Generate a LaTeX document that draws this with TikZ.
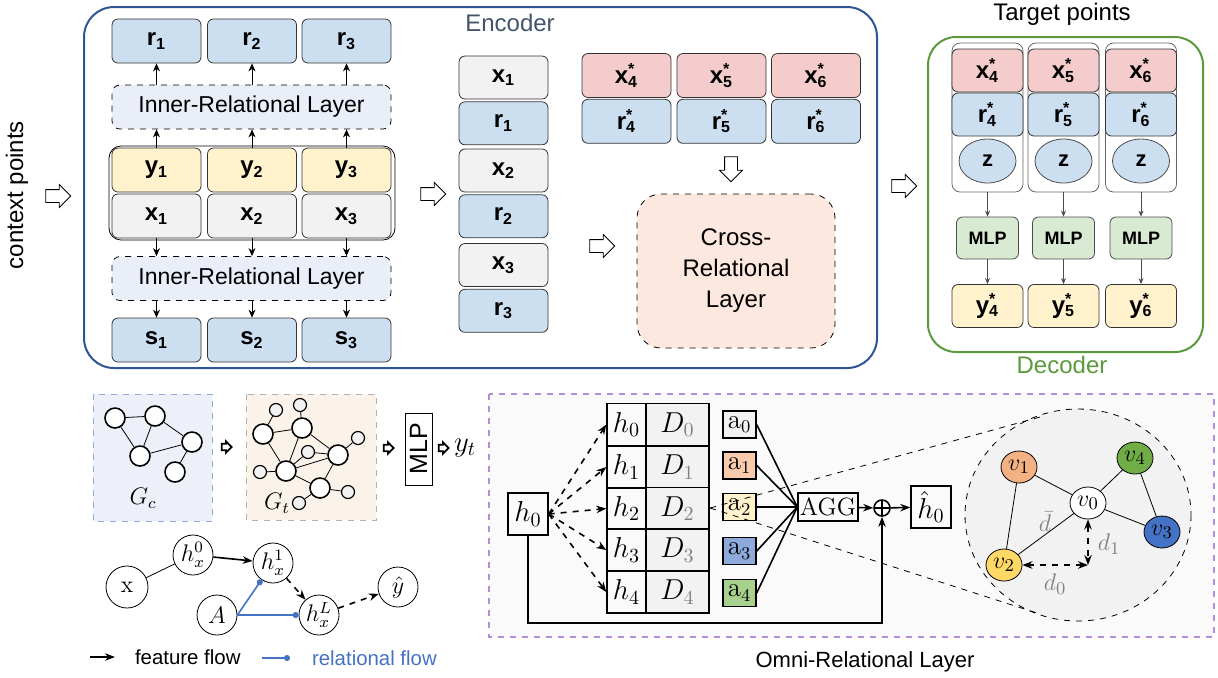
\documentclass[tikz,border=0pt]{standalone}
\usepackage{fontspec}
\setsansfont{Liberation Sans}
\usetikzlibrary{arrows.meta,shapes.geometric,shapes.arrows,positioning}

\definecolor{encblue}{HTML}{2F5597}
\definecolor{encgrey}{HTML}{44546A}
\definecolor{rblue}{HTML}{CCDFF1}
\definecolor{yyel}{HTML}{FFF2CC}
\definecolor{xgrey}{HTML}{F2F2F2}
\definecolor{xpink}{HTML}{F4CCCC}
\definecolor{layerbg}{HTML}{EAEEF8}
\definecolor{crossbg}{HTML}{FCE8DE}
\definecolor{decgreen}{HTML}{5B9A3C}
\definecolor{mlpgreen}{HTML}{D9EAD3}
\definecolor{gcbg}{HTML}{EDF0F9}
\definecolor{gcline}{HTML}{8EA9DB}
\definecolor{gtbg}{HTML}{FBF2EA}
\definecolor{omnipurple}{HTML}{B28FD6}
\definecolor{omnibg}{HTML}{FAFAFA}
\definecolor{relblue}{HTML}{4472C4}
\definecolor{aorange}{HTML}{F8CBAD}
\definecolor{ablue}{HTML}{8EA9DB}
\definecolor{agreen}{HTML}{A9D18E}
\definecolor{vorange}{HTML}{F4B183}
\definecolor{vgreen}{HTML}{70AD47}
\definecolor{vyellow}{HTML}{FFD966}

\newcommand{\tgt}[2]{#1\rlap{\textsuperscript{*}}\textsubscript{#2}}

\begin{document}
\begin{tikzpicture}[x=0.5pt, y=-0.5pt, every node/.style={font=\sffamily},
	cell/.style={draw=black!80, rounded corners=3pt, minimum width=44.5pt, minimum height=22pt, inner sep=0pt, font=\sffamily\bfseries\fontsize{12}{14}\selectfont},
	dcell/.style={cell, minimum width=35.5pt, minimum height=21.5pt},
	layer/.style={draw, dashed, rounded corners=4pt, fill=layerbg, minimum width=139.5pt, minimum height=22pt, font=\sffamily\fontsize{11.5}{14}\selectfont},
	hollow/.style={single arrow, draw, fill=white, minimum height=12.5pt, single arrow head extend=2.5pt, inner xsep=0pt, inner ysep=3pt},
	hollowdown/.style={hollow, shape border rotate=270, inner xsep=3pt, inner ysep=0pt},
	smallhollow/.style={single arrow, draw, fill=white, line width=0.9pt, minimum height=5pt, single arrow head extend=1.2pt, inner xsep=0pt, inner ysep=1.2pt},
	gnode/.style={circle, draw, fill=white, minimum size=10pt, inner sep=0pt, line width=0.8pt},
	gsmall/.style={circle, draw, fill=xgrey, minimum size=6.5pt, inner sep=0pt, line width=0.6pt},
	gcirc/.style={circle, draw, fill=white, minimum size=20pt, inner sep=0pt, font=\fontsize{12}{14}\selectfont},
	sq/.style={draw, line width=0.7pt, minimum width=20pt, minimum height=21pt, inner sep=0pt, font=\fontsize{14}{16}\selectfont},
	tcell/.style={draw, line width=0.7pt, minimum height=21pt, inner sep=0pt, font=\fontsize{14}{16}\selectfont},
	abox/.style={draw, line width=0.7pt, minimum width=16.5pt, minimum height=13.5pt, inner sep=0pt, font=\fontsize{13.5}{15}\selectfont},
	vnode/.style={ellipse, draw, minimum width=18pt, minimum height=16pt, inner sep=0pt, font=\fontsize{13}{15}\selectfont},
	fa/.style={-{Stealth[length=4pt,width=3.5pt]}}
]
\useasboundingbox (0,0) rectangle (1218,677);

%% encoder
\draw[encblue, line width=1pt, rounded corners=15pt] (84,7) rectangle (877,368);
\node[text=encgrey, font=\sffamily\fontsize{12}{14}\selectfont] (enclabel) at (510,23) {Encoder};
\node[rotate=90, font=\sffamily\fontsize{12}{14}\selectfont] (ctx) at (17,195) {context points};
\node[hollow] (ha0) at (55,196) {};

\draw[rounded corners=6pt] (109,146) rectangle (395,240);
\foreach \i/\x in {1/156.5, 2/252, 3/346.5}
{
	\node[cell, fill=rblue] (r\i) at (\x,41) {r\textsubscript{\i}};
	\node[cell, fill=yyel] (y\i) at (\x,170) {y\textsubscript{\i}};
	\node[cell, fill=xgrey] (x\i) at (\x,216) {x\textsubscript{\i}};
	\node[cell, fill=rblue] (s\i) at (\x,340) {s\textsubscript{\i}};
}
\node[layer] (irl1) at (251.5,107) {Inner-Relational Layer};
\node[layer] (irl2) at (251.5,278.5) {Inner-Relational Layer};
\foreach \i in {1,2,3}
{
	\draw[fa] (irl1.north -| r\i) -- (r\i.south);
	\draw[fa] (y\i.north) -- (irl1.south -| y\i);
	\draw[fa] (x\i.south) -- (irl2.north -| x\i);
	\draw[fa] (irl2.south -| s\i) -- (s\i.north);
}

\node[hollow] (ha1) at (430,194) {};
\foreach \i/\y in {1/77.5, 2/170.5, 3/265}
{
	\node[cell, fill=xgrey, minimum height=21.5pt] (mx\i) at (503.5,\y) {x\textsubscript{\i}};
	\node[cell, fill=rblue, minimum height=21.5pt, below=1pt of mx\i] (mr\i) {r\textsubscript{\i}};
}

\foreach \i/\x in {4/626.5, 5/721.5, 6/816}
{
	\node[cell, fill=xpink] (ex\i) at (\x,75.5) {\tgt{x}{\i}};
	\node[cell, fill=rblue, below=0.5pt of ex\i] (er\i) {\tgt{r}{\i}};
}
\node[hollowdown] (ha2) at (731,166) {};
\node[hollow] (ha3) at (599,246) {};
\node[draw, dashed, rounded corners=12pt, fill=crossbg, minimum width=99pt, minimum height=77pt, align=center, font=\sffamily\fontsize{12}{15.5}\selectfont] (cross) at (736,271) {Cross-\\Relational\\Layer};

%% decoder
\node[hollow] (ha4) at (901,186) {};
\node[font=\sffamily\fontsize{12}{14}\selectfont] (tgtlabel) at (1062,14) {Target points};
\draw[decgreen, line width=1pt, rounded corners=14pt] (928,37) rectangle (1203,352);
\node[text=decgreen, font=\sffamily\fontsize{12}{14}\selectfont] (declabel) at (1062,365) {Decoder};
\foreach \i/\x in {4/987.5, 5/1063.5, 6/1141}
{
	\draw[rounded corners=4pt, black!60] (\x-35.5,43) rectangle (\x+35.5,192);
	\node[dcell, fill=xpink] (dx\i) at (\x,70.5) {\tgt{x}{\i}};
	\node[dcell, fill=rblue] (dr\i) at (\x,114.5) {\tgt{r}{\i}};
	\node[ellipse, draw=black!70, fill=rblue, minimum width=28.5pt, minimum height=22pt, inner sep=0pt, font=\sffamily\bfseries\fontsize{11}{13}\selectfont] (z\i) at (\x,161) {z};
	\coordinate (dc\i) at (\x,192);
	\node[draw=black!70, rounded corners=3pt, fill=mlpgreen, minimum width=31pt, minimum height=21pt, inner sep=0pt, font=\sffamily\bfseries\fontsize{9}{11}\selectfont] (mlp\i) at (\x,238) {MLP};
	\node[dcell, fill=yyel] (dy\i) at (\x,306) {\tgt{y}{\i}};
	\draw[black!70, -{Stealth[length=3pt,width=2.5pt]}] (dc\i) -- (mlp\i);
	\draw[black!70, -{Stealth[length=3pt,width=2.5pt]}] (mlp\i) -- (dy\i);
}

%% graphs
\draw[dashed, gcline, fill=gcbg] (93,394) rectangle (212,521);
\foreach \n/\x/\y in {c1/115/418, c2/155/416, c3/140/456, c4/192/442, c5/175/472}
	\node[gnode] (\n) at (\x,\y) {};
\foreach \a/\b in {c1/c2, c1/c3, c2/c3, c2/c4, c3/c4, c4/c5}
	\draw (\a) -- (\b);
\node[font=\fontsize{12}{14}\selectfont] (gclabel) at (143,498) {$G_c$};
\node[smallhollow] (ha5) at (225,447) {};

\draw[dashed, black!30, fill=gtbg] (246,394) rectangle (376,520);
\foreach \n/\x/\y in {tA/263/434, tB/302/428, tC/286/471, tD/338/455, tE/320/488}
	\node[gnode] (\n) at (\x,\y) {};
\foreach \n/\x/\y in {t1/276/410, t2/300/405, t3/358/438, t4/308/452, t5/260/472, t6/348/492, t7/299/503}
	\node[gsmall] (\n) at (\x,\y) {};
\foreach \a/\b in {tA/t1, tA/tB, tB/t2, tA/tC, tB/tC, tB/tD, tD/t3, tC/t4, t4/tD, tC/tD, tC/tE, tD/tE, tE/t6, tE/t7, tC/t5}
	\draw (\a) -- (\b);
\node[font=\fontsize{12}{14}\selectfont] (gtlabel) at (277,503) {$G_t$};
\node[smallhollow] (ha6) at (387,448) {};
\node[draw, rotate=90, minimum width=36pt, minimum height=13.5pt, inner sep=0pt, font=\sffamily\fontsize{12.5}{14}\selectfont] (mlpg) at (418.5,449) {MLP};
\node[smallhollow] (ha7) at (442,448) {};
\node[font=\fontsize{14}{16}\selectfont] (yt) at (465,448) {$y_t$};

\node[gcirc, minimum size=21pt] (gx) at (127,587) {$\mathrm{x}$};
\node[gcirc] (gh0) at (193,555) {$h_x^0$};
\node[gcirc] (gh1) at (273,563) {$h_x^1$};
\node[gcirc] (ga) at (217,615) {$A$};
\node[gcirc] (ghl) at (319,615) {$h_x^L$};
\node[gcirc] (gy) at (398,587) {$\hat{y}$};
\draw (gx) -- (gh0);
\draw[thick, -{Stealth[length=5pt]}] (gh0) -- (gh1);
\draw[thick, dashed, -{Stealth[length=5pt]}] (gh1) -- (ghl);
\draw[thick, dashed, -{Stealth[length=5pt]}] (ghl) -- (gy);
\draw[relblue, thick, -{Circle[length=3pt]}] (ga.east) -- (gh1);
\draw[relblue, thick, -{Circle[length=3pt]}] (ga.east) -- (ghl);

\coordinate (lf1) at (90,657);
\coordinate (lf2) at (115,657);
\draw[thick, -{Stealth[length=5pt]}] (lf1) -- (lf2);
\node[anchor=west, font=\sffamily\fontsize{10.2}{12}\selectfont] (lft) at (128,657) {feature flow};
\coordinate (lr1) at (262,658);
\coordinate (lr2) at (290,658);
\draw[relblue, thick, -{Circle[length=3pt]}] (lr1) -- (lr2);
\node[anchor=west, text=relblue, font=\sffamily\fontsize{10.2}{12}\selectfont] (lrt) at (305,658) {relational flow};

%% omni-relational layer
\draw[dashed, omnipurple, line width=0.8pt, fill=omnibg] (489,394) rectangle (1214,637);
\node[font=\sffamily\fontsize{11}{13}\selectfont] (omnilabel) at (865,662) {Omni-Relational Layer};
\node[sq] (oh0) at (528,514) {$h_0$};
\foreach \i/\y in {0/424.5, 1/467, 2/508.5, 3/550, 4/592}
{
	\node[tcell, minimum width=19.5pt] (th\i) at (626.5,\y) {$h_\i$};
	\node[tcell, fill=xgrey, minimum width=31.5pt] (td\i) at (677.5,\y) {$D_{\color{gray}\i}$};
	\draw[thick, dashed, -{Stealth[length=5pt]}] (oh0.east) -- (th\i.west);
}
\node[draw, line width=0.7pt, minimum width=24pt, minimum height=14pt, inner sep=1pt, font=\rmfamily\fontsize{12.5}{14}\selectfont] (agg) at (828,507) {AGG};
\foreach \i/\y/\c in {0/424.5/xgrey, 1/465.5/aorange, 2/507/yyel, 3/551/ablue, 4/593/agreen}
{
	\node[abox, fill=\c] (a\i) at (739.5,\y) {$\mathrm{a}_\i$};
	\draw[thick] (a\i.east) -- (agg.west);
}
\node[circle, draw, thick, minimum size=8pt, inner sep=0pt, path picture={\draw[thick] (path picture bounding box.north) -- (path picture bounding box.south) (path picture bounding box.west) -- (path picture bounding box.east);}] (plus) at (882,508) {};
\node[sq] (hh0) at (931,507) {$\hat{h}_0$};
\draw[thick, -{Stealth[length=5pt]}] (agg) -- (plus);
\draw[thick, -{Stealth[length=5pt]}] (plus) -- (hh0);
\coordinate (skip) at (528,623);
\draw[thick, -{Stealth[length=5pt]}] (oh0) -- (skip) -| (plus);

\draw[dashed, fill=xgrey] (1078,515) ellipse [x radius=113, y radius=106];
\coordinate (ztip) at (710,508);
\coordinate (ztop) at (1040,417);
\coordinate (zbot) at (1037,613);
\draw[dashed] (ztip) -- (ztop);
\draw[dashed] (ztip) -- (zbot);

\node[vnode, fill=white] (v0) at (1088,503) {$v_0$};
\node[vnode, fill=vorange] (v1) at (1019,467) {$v_1$};
\node[vnode, fill=vyellow] (v2) at (1004,565) {$v_2$};
\node[vnode, fill=relblue] (v3) at (1162,532) {$v_3$};
\node[vnode, fill=vgreen] (v4) at (1135,458) {$v_4$};
\foreach \a/\b in {v1/v0, v1/v2, v0/v4, v4/v3, v0/v3, v2/v0}
	\draw (\a) -- (\b);
\coordinate (dcorner) at (1088,565);
\draw[thick, dashed, {Stealth[length=5pt]}-{Stealth[length=5pt]}] (v0) -- (dcorner);
\draw[thick, dashed, {Stealth[length=5pt]}-{Stealth[length=5pt]}] (dcorner) -- (v2);
\node[text=gray, font=\fontsize{13}{15}\selectfont] (dbar) at (1045,522) {$\bar{d}$};
\node[text=gray, font=\fontsize{13}{15}\selectfont] (dd1) at (1109,544) {$d_1$};
\node[text=gray, font=\fontsize{13}{15}\selectfont] (dd0) at (1055,584) {$d_0$};
\end{tikzpicture}
\end{document}
